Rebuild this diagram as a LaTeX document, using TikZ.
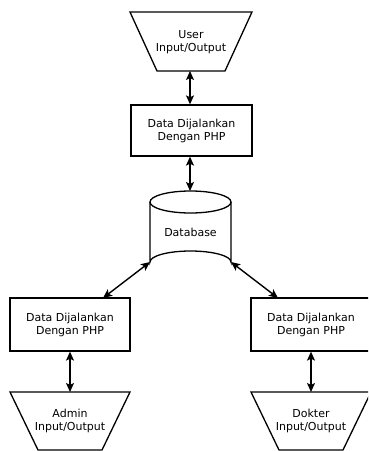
\documentclass[tikz,border=0pt]{standalone}
\usepackage{fontspec}
\setmainfont{DejaVu Sans}
\usetikzlibrary{arrows.meta}
\begin{document}
\begin{tikzpicture}[x=1pt,y=-1pt,
  shp/.style={draw=black,line width=1.3pt,fill=white},
  lbl/.style={align=center,font=\fontsize{11}{13}\selectfont,inner sep=0pt},
  link/.style={line width=1.4pt,{Stealth[length=9pt,width=8pt,inset=2pt]}-{Stealth[length=9pt,width=8pt,inset=2pt]}}]
\clip (0,0) rectangle (368,451);
\fill[white] (0,0) rectangle (368,451);
% top trapezoid (user)
\draw[shp] (130,12) -- (252,12) -- (225,71) -- (157,71) -- cycle;
\node[lbl] (user) at (191,42) {User\\Input/Output};
\coordinate (userb) at (190,71);
% box 1
\node[shp,minimum width=121pt,minimum height=51pt,inner sep=0pt] (p1) at (191.5,130.5) {};
\node[lbl] at (p1) {Data Dijalankan\\Dengan PHP};
% cylinder
\draw[shp] (150,202) -- (150,262) arc[start angle=180,end angle=360,x radius=40.5,y radius=11] -- (231,202);
\draw[shp] (190.5,202) ellipse[x radius=40.5,y radius=11];
\node[lbl] (db) at (190.5,232) {Database};
\coordinate (dbt) at (190,191);
\coordinate (dbl) at (150,262);
\coordinate (dbr) at (231,262);
% left box
\node[shp,minimum width=120pt,minimum height=53pt,inner sep=0pt] (p2) at (70,324.5) {};
\node[lbl] at (p2) {Data Dijalankan\\Dengan PHP};
% right box
\node[shp,minimum width=120pt,minimum height=53pt,inner sep=0pt] (p3) at (311,324.5) {};
\node[lbl] at (p3) {Data Dijalankan\\Dengan PHP};
% bottom trapezoids
\draw[shp] (10,392) -- (130,392) -- (102,450) -- (38,450) -- cycle;
\node[lbl] (admin) at (70,421) {Admin\\Input/Output};
\coordinate (admint) at (70,392);
\draw[shp] (251,392) -- (371,392) -- (343,450) -- (279,450) -- cycle;
\node[lbl] (dokter) at (311,421) {Dokter\\Input/Output};
\coordinate (doktert) at (311,392);
% connectors
\draw[link] (userb) -- (p1.north -| userb);
\draw[link] (p1.south -| dbt) -- (dbt);
\draw[link] (dbl) -- (103,298);
\draw[link] (dbr) -- (278,298);
\draw[link] (p2.south) -- (admint);
\draw[link] (p3.south) -- (doktert);
\end{tikzpicture}
\end{document}
